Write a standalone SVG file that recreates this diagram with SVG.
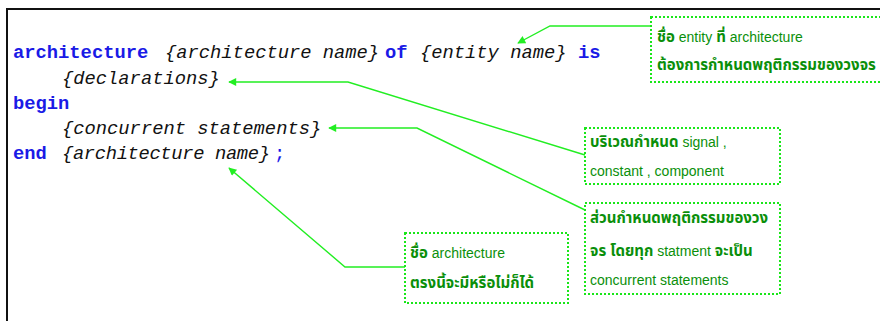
<svg xmlns="http://www.w3.org/2000/svg" width="880" height="321" viewBox="0 0 880 321">
  <style>
    .code { font-family: "Liberation Mono", "DejaVu Sans Mono", monospace; font-size: 18.8px; }
    .kw { fill: #1a1ae6; font-weight: bold; }
    .ph { fill: #111; font-style: italic; }
    .note { fill: none; stroke: #19e619; stroke-width: 2; stroke-dasharray: 2 2; }
    .ntext { font-family: "Liberation Sans", "Noto Sans Thai", "Noto Sans", sans-serif; font-size: 14px; fill: #0a8f0a; }
    .th { font-size: 15px; font-weight: bold; }
    .link { fill: none; stroke: #22ee22; stroke-width: 1.4; }
  </style>
  <defs>
    <marker id="arrow" viewBox="0 0 10 10" refX="9" refY="5" markerWidth="10" markerHeight="8" markerUnits="userSpaceOnUse" orient="auto">
      <path d="M0,0 L10,5 L0,10 Z" fill="#22ee22"/>
    </marker>
  </defs>

  <rect width="880" height="321" fill="#fff"/>
  <!-- frame -->
  <path d="M7,321 V9 H880" fill="none" stroke="#111" stroke-width="2"/>

  <!-- code listing -->
  <g id="code" class="code">
    <text x="13" y="58" class="kw">architecture</text>
    <text x="165" y="58" class="ph">{architecture name}</text>
    <text x="385" y="58" class="kw">of</text>
    <text x="420" y="58" class="ph">{entity name}</text>
    <text x="578" y="58" class="kw">is</text>
    <text x="62" y="84" class="ph">{declarations}</text>
    <text x="13" y="109" class="kw">begin</text>
    <text x="62" y="134" class="ph">{concurrent statements}</text>
    <text x="13" y="159" class="kw">end</text>
    <text x="62" y="159" class="ph" textLength="208" lengthAdjust="spacing">{architecture name}</text>
    <text x="274" y="159" fill="#1a1ae6">;</text>
  </g>

  <!-- connectors -->
  <g id="connectors">
    <polyline class="link" points="651,26 550,26 518,43" marker-end="url(#arrow)"/>
    <polyline class="link" points="585,155 348,82 229,82" marker-end="url(#arrow)"/>
    <polyline class="link" points="585,210 417,128 329,128" marker-end="url(#arrow)"/>
    <polyline class="link" points="405,267 345,267 229,168" marker-end="url(#arrow)"/>
  </g>

  <!-- notes -->
  <g id="note-entity">
    <rect class="note" x="651" y="17" width="240" height="65"/>
    <text class="ntext" x="657" y="42"><tspan class="th">ชื่อ</tspan> entity <tspan class="th">ที่</tspan> architecture</text>
    <text class="ntext th" x="657" y="70">ต้องการกำหนดพฤติกรรมของวงจร</text>
  </g>
  <g id="note-declarations">
    <rect class="note" x="585" y="128" width="195" height="56"/>
    <text class="ntext" x="590" y="147"><tspan class="th">บริเวณกำหนด</tspan> signal ,</text>
    <text class="ntext" x="590" y="176">constant , component</text>
  </g>
  <g id="note-statements">
    <rect class="note" x="585" y="203" width="195" height="91"/>
    <text class="ntext th" x="590" y="223">ส่วนกำหนดพฤติกรรมของวง</text>
    <text class="ntext" x="590" y="256"><tspan class="th">จร  โดยทุก</tspan> statment <tspan class="th">จะเป็น</tspan></text>
    <text class="ntext" x="590" y="285">concurrent statements</text>
  </g>
  <g id="note-name">
    <rect class="note" x="405" y="233" width="163" height="70"/>
    <text class="ntext" x="410" y="258"><tspan class="th">ชื่อ</tspan> architecture</text>
    <text class="ntext th" x="410" y="288">ตรงนี้จะมีหรือไม่ก็ได้</text>
  </g>
</svg>
